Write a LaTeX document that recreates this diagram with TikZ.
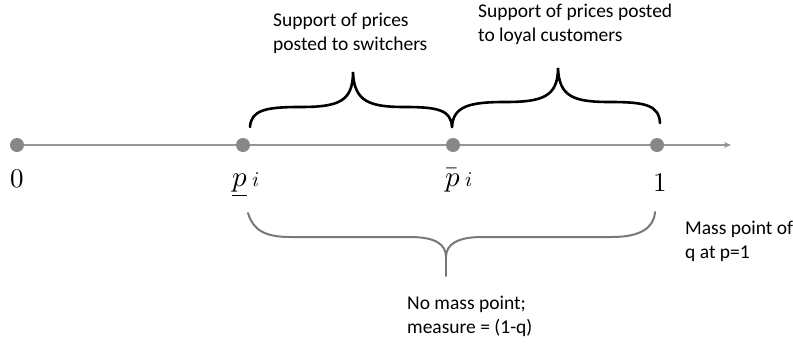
\documentclass[tikz,border=0pt]{standalone}
\usepackage{fontspec}
\usepackage{unicode-math}
\setmainfont{Carlito}
\setmathfont{Latin Modern Math}
\usetikzlibrary{arrows.meta}
\definecolor{axisgray}{RGB}{150,150,150}
\definecolor{dotgray}{RGB}{135,135,135}
\definecolor{bracegray}{RGB}{120,120,120}
\begin{document}
\begin{tikzpicture}[x=1pt,y=-1pt,
  axis/.style={draw=axisgray, line width=2.4pt},
  dot/.style={circle, fill=dotgray, inner sep=0pt, minimum size=14pt},
  lbl/.style={font=\fontsize{19.5}{23.5}\selectfont, align=left, inner sep=0pt, anchor=base west},
  num/.style={font=\fontsize{27}{27}\selectfont, inner sep=0pt, anchor=base},
  mlbl/.style={font=\fontsize{29}{29}\selectfont, inner sep=0pt, anchor=base west},
  bracestyle/.style={draw=black, line width=2.6pt, line cap=round},
  gbracestyle/.style={draw=bracegray, line width=2pt, line cap=round}]
\useasboundingbox (0,0) rectangle (793,346);
\coordinate (start) at (17,145);
\coordinate (stop) at (731,145);
\draw[axis, -{Stealth[length=7pt,width=6pt]}] (start) -- (stop);
\node[dot] (d0) at (17,145) {};
\node[dot] (dp) at (243,145) {};
\node[dot] (dq) at (453,145) {};
\node[dot] (d1) at (657,145) {};
% value labels
\node[num] (l0) at (17,187) {$0$};
\node[mlbl] (lp) at (232,186) {$\underline{p}$\hspace{5pt}{\fontsize{21}{21}\selectfont$i$}};
\node[mlbl] (lq) at (445,186) {$\bar{p}$\hspace{5pt}{\fontsize{21}{21}\selectfont$i$}};
\node[num] (l1) at (660,191) {$1$};
% top braces
\coordinate (b1l) at (250,127);
\coordinate (b1t) at (353,72);
\coordinate (b1r) at (452,127);
\coordinate (b2t) at (558,68);
\coordinate (b2r) at (660,123);
\draw[bracestyle] (b1l) .. controls (251,110) and (266,107) .. (300,107)
  .. controls (338,107) and (353,102) .. (b1t)
  .. controls (354,102) and (370,107) .. (405,107)
  .. controls (438,107) and (451,110) .. (b1r);
\draw[bracestyle] (b1r) .. controls (453,106) and (470,102) .. (505,102)
  .. controls (542,102) and (558,97) .. (b2t)
  .. controls (559,97) and (574,102) .. (610,102)
  .. controls (645,102) and (659,105) .. (b2r);
% bottom brace
\coordinate (b3l) at (248,213);
\coordinate (b3t) at (446,257);
\coordinate (b3b) at (446,276);
\coordinate (b3r) at (655,212);
\draw[gbracestyle] (b3l) .. controls (253,230) and (265,237) .. (290,237)
  -- (410,237) .. controls (435,237) and (446,244) .. (b3t)
  .. controls (446,244) and (458,237) .. (482,237)
  -- (612,237) .. controls (640,237) and (654,228) .. (b3r);
\draw[gbracestyle] (b3t) -- (b3b);
% texts (base anchor = baseline of the last line)
\node[lbl] (t1) at (273,50) {Support of prices\\posted to switchers};
\node[lbl] (t2) at (478,41) {Support of prices posted\\to loyal customers};
\node[lbl] (t3) at (407,333) {No mass point;\\measure = (1-q)};
\node[lbl] (t4) at (685,258) {Mass point of\\q at p=1};
\end{tikzpicture}
\end{document}
